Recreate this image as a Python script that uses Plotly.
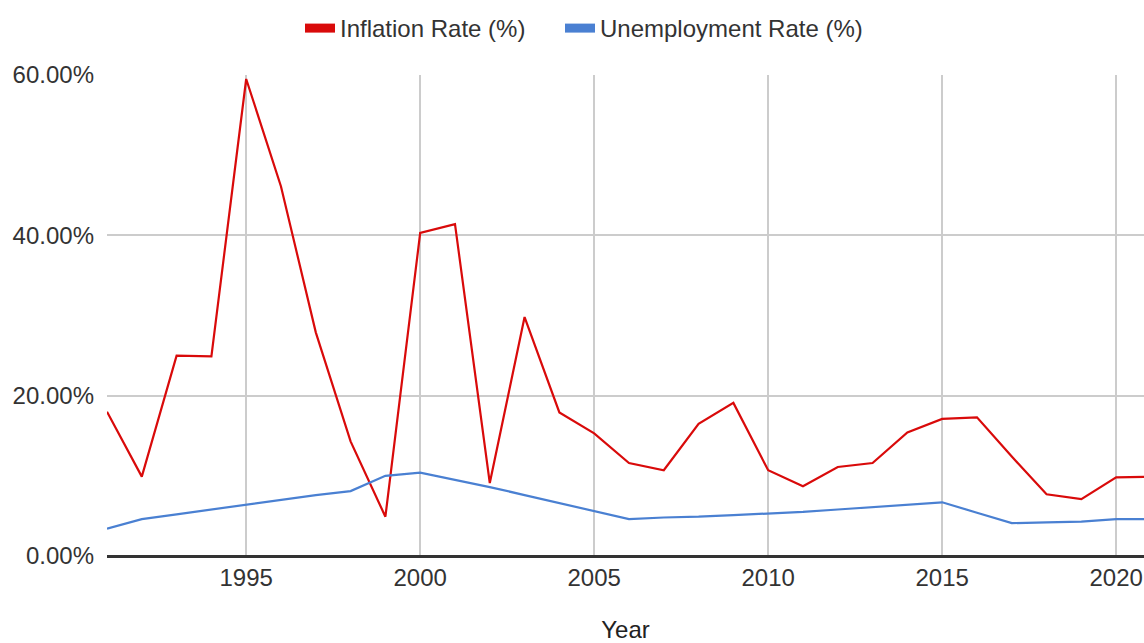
import plotly.graph_objects as go

years = list(range(1991, 2022))
inflation = [18.0, 9.9, 25.0, 24.9, 59.5, 46.1, 27.9, 14.3, 4.9, 40.3,
             41.4, 9.1, 29.8, 17.9, 15.3, 11.6, 10.7, 16.5, 19.1, 10.7,
             8.7, 11.1, 11.6, 15.4, 17.1, 17.3, 12.4, 7.7, 7.1, 9.8, 9.9]
unemployment = [3.4, 4.6, 5.2, 5.8, 6.4, 7.0, 7.6, 8.1, 10.0, 10.4,
                9.5, 8.6, 7.6, 6.6, 5.6, 4.6, 4.8, 4.9, 5.1, 5.3,
                5.5, 5.8, 6.1, 6.4, 6.7, 5.4, 4.1, 4.2, 4.3, 4.6, 4.6]

RED = "#d90a0a"
BLUE = "#4a80d2"
FONT = "Liberation Sans, Arial, sans-serif"

fig = go.Figure()
fig.add_trace(go.Scatter(x=years, y=inflation, mode="lines", name="Inflation Rate (%)",
                         line=dict(color=RED, width=2.2), showlegend=False))
fig.add_trace(go.Scatter(x=years, y=unemployment, mode="lines", name="Unemployment Rate (%)",
                         line=dict(color=BLUE, width=2.2), showlegend=False))
# legend entries (swatches), each in its own legend box
fig.add_trace(go.Scatter(x=[None], y=[None], mode="lines", name="Inflation Rate (%)",
                         line=dict(color=RED, width=9), legend="legend"))
fig.add_trace(go.Scatter(x=[None], y=[None], mode="lines", name="Unemployment Rate (%)",
                         line=dict(color=BLUE, width=9), legend="legend2"))

leg_common = dict(orientation="h", xref="container", yref="container",
                  xanchor="left", yanchor="top", y=1 - 6 / 643,
                  font=dict(size=24, color="#333333"), itemwidth=30,
                  bgcolor="rgba(0,0,0,0)")

fig.update_layout(
    width=1144, height=643,
    margin=dict(l=107, r=0, t=75, b=87, autoexpand=False),
    paper_bgcolor="white", plot_bgcolor="white",
    font=dict(family=FONT, size=24, color="#333333"),
    legend=dict(x=300 / 1144, **leg_common),
    legend2=dict(x=560 / 1144, **leg_common),
    xaxis=dict(range=[1991, 2020.8], tick0=1995, dtick=5, showgrid=True,
               gridcolor="#cccccc", gridwidth=1.5, zeroline=False, ticks="",
               showline=False, ticklabelstandoff=5, automargin=False,
               title=dict(text="Year", standoff=46,
                          font=dict(size=24, color="#222222"))),
    yaxis=dict(range=[0, 60], dtick=20, tickformat=".2f", ticksuffix="%",
               showgrid=True, gridcolor="#cccccc", gridwidth=1.5,
               zeroline=True, zerolinecolor="#333333", zerolinewidth=2.5,
               ticks="", ticklabelstandoff=12, automargin=False),
)

fig.write_html("out.html")
